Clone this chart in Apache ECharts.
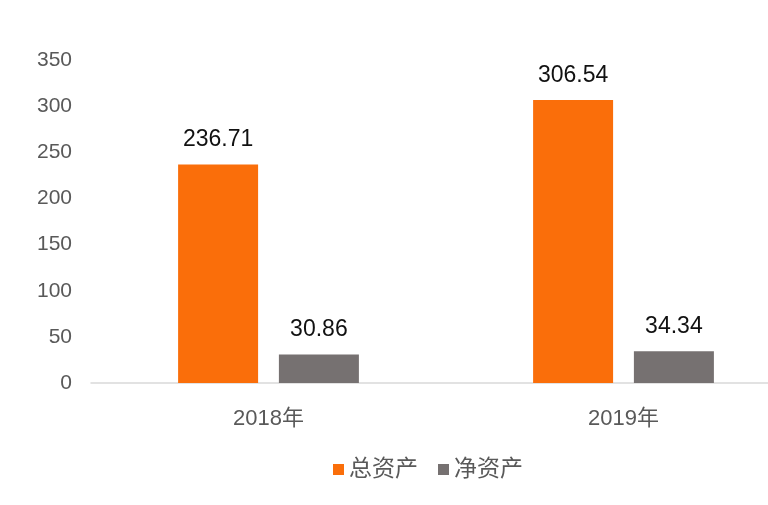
<!DOCTYPE html>
<html><head><meta charset="utf-8">
<script src="https://cdn.jsdelivr.net/npm/echarts@6/dist/echarts.min.js"></script>
<style>html,body{margin:0;padding:0;background:#fff}#c{width:768px;height:505px}</style>
</head><body><div id="c"></div>
<script>
var categories = ['2018年', '2019年'];
var totalAssets = [236.71, 306.54];
var netAssets = [30.86, 34.34];
var seriesNames = ['总资产', '净资产'];
var yTicks = { min: 0, max: 350, interval: 50 };

var font = '"Liberation Sans", "Noto Sans CJK SC", sans-serif';
var chart = echarts.init(document.getElementById('c'));
var labelCfg = { show: true, position: 'top', distance: 13, color: '#111', fontSize: 23, fontFamily: font,
  formatter: function (p) { return p.value.toFixed(2); } };
chart.setOption({
  animation: false,
  backgroundColor: '#fff',
  grid: { left: 91, width: 710, top: 60, height: 323, containLabel: false, outerBoundsMode: 'none' },
  legend: {
    data: seriesNames, top: 458, left: 333, itemWidth: 11, itemHeight: 11, itemGap: 20,
    icon: 'rect', textStyle: { color: '#595959', fontSize: 23, fontFamily: font }, padding: 0
  },
  xAxis: {
    type: 'category', data: categories,
    axisLine: { lineStyle: { color: '#d9d9d9', width: 1.5 } },
    axisTick: { show: false },
    axisLabel: { color: '#595959', fontSize: 22, fontFamily: font, margin: 25 }
  },
  yAxis: {
    type: 'value', min: yTicks.min, max: yTicks.max, interval: yTicks.interval,
    splitLine: { show: false }, axisLine: { show: false }, axisTick: { show: false },
    axisLabel: { color: '#595959', fontSize: 21, fontFamily: font, margin: 19 }
  },
  series: [
    { name: seriesNames[0], type: 'bar', data: totalAssets, barWidth: 80, barGap: '26%',
      itemStyle: { color: '#FA6E0A' }, label: labelCfg },
    { name: seriesNames[1], type: 'bar', data: netAssets, barWidth: 80,
      itemStyle: { color: '#767171' }, label: labelCfg }
  ]
});
</script></body></html>
